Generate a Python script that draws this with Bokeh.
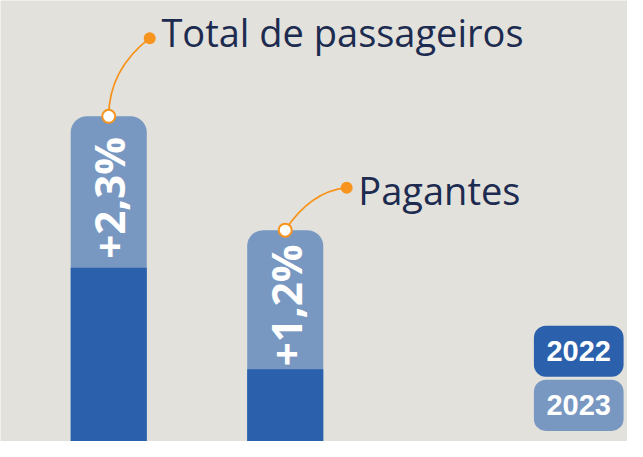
import math
from bokeh.plotting import figure
from bokeh.models import Range1d
from bokeh.core.properties import value
from bokeh.embed import file_html
from bokeh.resources import INLINE

# ---- data (relative units) ----
categories = ["Total de passageiros", "Pagantes"]
values_2022 = [180, 75]
values_2023 = [337, 219]
changes = ["+2,3%", "+1,2%"]
legend_labels = ["2022", "2023"]

# ---- styles / layout ----
BG = "#e2e1dc"
DARK = "#2b60ad"
LIGHT = "#7898c2"
ORANGE = "#f7941d"
NAVY = "#1c2b4f"

bar_x = [111, 292]
bar_w = 78
dot_dx = [42, 63]
dot_dy = [81, 44]
ctrl_dx = [0, 26]
ctrl_dy = [48, 40]
text_dy = [6, -2]

p = figure(width=627, height=441, output_backend="svg", toolbar_location=None,
           x_range=Range1d(0, 643), y_range=Range1d(0, 457), min_border=0)
p.axis.visible = False
p.grid.visible = False
p.outline_line_color = None
p.background_fill_color = BG
p.border_fill_color = BG

# bars
p.vbar(x=bar_x, top=values_2023, bottom=-20, width=bar_w, fill_color=LIGHT,
       line_color=None, border_radius=(16, 16, 0, 0))
p.vbar(x=bar_x, top=values_2022, bottom=-20, width=bar_w, fill_color=DARK, line_color=None)

# change labels
lab_y = [(a + b) / 2 - 6 for a, b in zip(values_2022, values_2023)]
p.text(x=bar_x, y=lab_y, text=changes, angle=math.pi / 2, text_align="center",
       text_baseline="middle", text_color="white", text_font=value("Open Sans"),
       text_font_style="bold", text_font_size="42px")

# annotation curves
ex = [x + d for x, d in zip(bar_x, dot_dx)]
ey = [y + d for y, d in zip(values_2023, dot_dy)]
cx = [x + d for x, d in zip(bar_x, ctrl_dx)]
cy = [y + d for y, d in zip(values_2023, ctrl_dy)]
p.quadratic(x0=bar_x, y0=values_2023, x1=ex, y1=ey, cx=cx, cy=cy,
            line_color=ORANGE, line_width=1.8)
p.scatter(x=ex, y=ey, size=12, fill_color=ORANGE, line_color=None)
p.scatter(x=bar_x, y=values_2023, size=13, fill_color="white", line_color=ORANGE, line_width=2)
p.text(x=[e + 12 for e in ex], y=[e + d for e, d in zip(ey, text_dy)], text=categories,
       text_align="left", text_baseline="middle", text_color=NAVY,
       text_font=value("Open Sans"), text_font_size="38px")

# legend boxes
leg_colors = [DARK, LIGHT]
leg_top = [120, 64]
leg_bottom = [67, 11]
p.quad(left=547, right=639, top=leg_top, bottom=leg_bottom, fill_color=leg_colors,
       line_color=None, border_radius=12)
p.text(x=[593, 593], y=[(t + b) / 2 for t, b in zip(leg_top, leg_bottom)], text=legend_labels,
       text_align="center", text_baseline="middle", text_color="white",
       text_font=value("Liberation Sans"), text_font_style="bold", text_font_size="29px")

open("out.html", "w").write(file_html(p, INLINE))
